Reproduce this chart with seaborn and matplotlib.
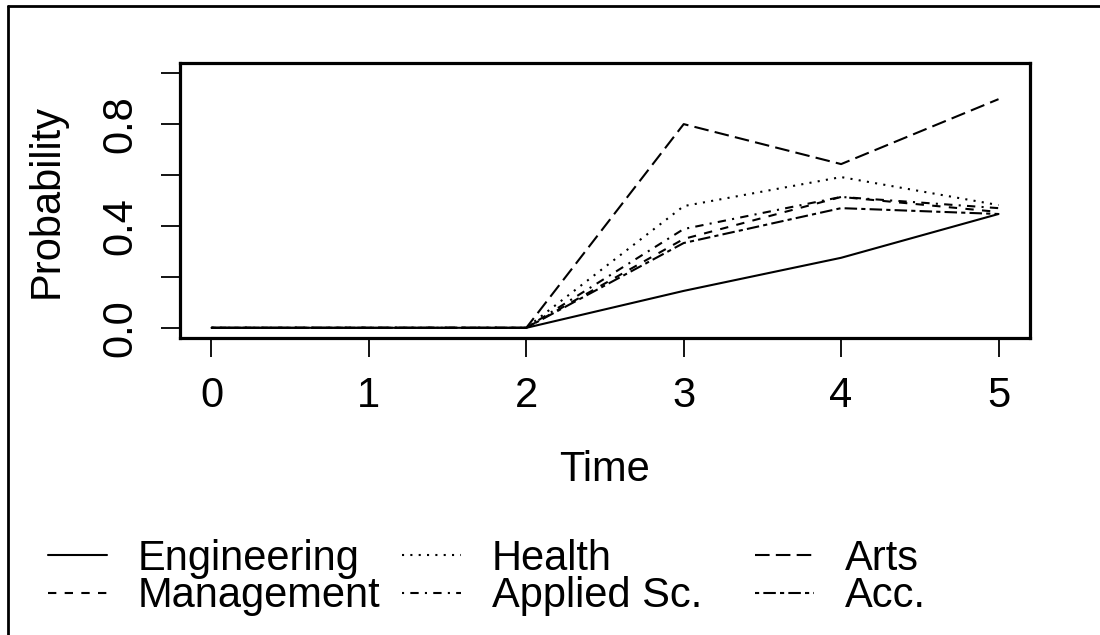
import matplotlib
matplotlib.use("Agg")
import matplotlib.pyplot as plt
from matplotlib.lines import Line2D
import numpy as np
import pandas as pd
import seaborn as sns

# Transition probabilities by program over time
times = [0, 1, 2, 3, 4, 5]
programs = ["Engineering", "Management", "Health", "Applied Sc.", "Arts", "Acc."]
engineering = [0.0, 0.0, 0.0, 0.145, 0.275, 0.447]
management = [0.0, 0.0, 0.0, 0.349, 0.514, 0.455]
health = [0.0, 0.0, 0.0, 0.478, 0.592, 0.482]
applied_sc = [0.0, 0.0, 0.0, 0.388, 0.514, 0.470]
arts = [0.0, 0.0, 0.0, 0.800, 0.643, 0.898]
acc = [0.0, 0.0, 0.0, 0.333, 0.470, 0.447]

y_ticks = [0.0, 0.2, 0.4, 0.6, 0.8, 1.0]
y_tick_labels = ["0.0", "", "0.4", "", "0.8", ""]
x_tick_labels = ["0", "1", "2", "3", "4", "5"]

series = [engineering, management, health, applied_sc, arts, acc]
df = pd.concat(
    [pd.DataFrame({"Time": times, "Probability": vals, "Program": name})
     for name, vals in zip(programs, series)],
    ignore_index=True,
)

# line types: solid, dashed, dotted, dotdash, longdash, twodash
dash_styles = {
    "Engineering": "",
    "Management": (4, 4),
    "Health": (1, 3),
    "Applied Sc.": (1, 3, 4, 3),
    "Arts": (7, 3),
    "Acc.": (2, 2, 6, 2),
}

sns.set_theme(style="white")
plt.rcParams["font.family"] = ["Liberation Sans", "DejaVu Sans"]

FS = 30
fig = plt.figure(figsize=(11, 6.35), dpi=100)
ax = fig.add_axes([180 / 1100, 1 - 338 / 635, 850 / 1100, 275 / 635])

LW = 1.5
sns.lineplot(
    data=df, x="Time", y="Probability", style="Program",
    style_order=programs, dashes=dash_styles, color="black",
    linewidth=LW, legend=False, ax=ax, markers=False,
)

ax.set_xlim(-0.2, 5.2)
ax.set_ylim(-0.04, 1.04)
ax.set_xticks(times)
ax.set_xticklabels(x_tick_labels)
ax.set_yticks(y_ticks)
ax.set_yticklabels(y_tick_labels, rotation=90, va="center")

for s in ax.spines.values():
    s.set_visible(True)
    s.set_color("black")
    s.set_linewidth(2.3)

ax.tick_params(axis="both", direction="out", length=13.5, width=1.3,
               color="black", labelsize=FS, labelcolor="black",
               bottom=True, left=True)
ax.tick_params(axis="x", pad=14)
ax.tick_params(axis="y", pad=15)
ax.set_xlabel("Time", fontsize=FS, labelpad=24, color="black")
ax.set_ylabel("Probability", fontsize=FS, labelpad=24, color="black")
ax.grid(False)

# legend in three columns, two entries each
handles = [Line2D([0], [0], color="black", linewidth=LW,
                  dashes=dash_styles[p] if dash_styles[p] else (None, None))
           for p in programs]
handles[0] = Line2D([0], [0], color="black", linewidth=LW, linestyle="-")
col_x = [48, 402, 755]
for i, x0 in enumerate(col_x):
    leg = fig.legend(
        handles[2 * i:2 * i + 2], programs[2 * i:2 * i + 2],
        loc="upper left", bbox_to_anchor=(x0 / 1100, 1 - 539 / 635),
        frameon=False, fontsize=FS, borderaxespad=0, borderpad=0,
        handlelength=1.42, handletextpad=0.74, labelspacing=-0.07,
    )
    for t in leg.get_texts():
        t.set_color("black")

# page border along the top and left edges
fig.add_artist(Line2D([8 / 1100, 8 / 1100], [0, 1 - 6 / 635],
                      transform=fig.transFigure, color="black", linewidth=2))
fig.add_artist(Line2D([8 / 1100, 1], [1 - 6 / 635, 1 - 6 / 635],
                      transform=fig.transFigure, color="black", linewidth=2))

fig.savefig("out.png", dpi=100, facecolor="white")
